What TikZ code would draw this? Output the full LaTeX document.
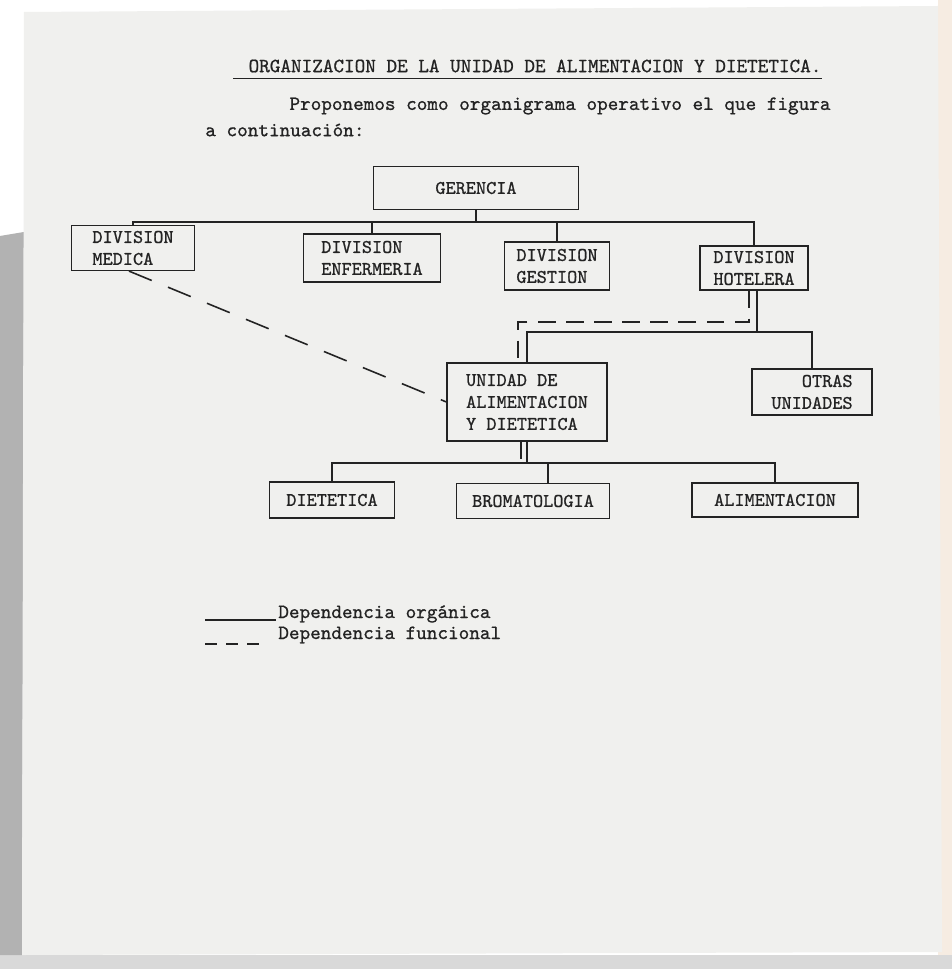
\documentclass[tikz,border=0pt]{standalone}
\usepackage{fontspec}
\setmonofont{lmmono10-regular.otf}[FakeBold=0.8]
\usetikzlibrary{positioning,calc}
\definecolor{paper}{RGB}{240,240,238}
\definecolor{ink}{RGB}{35,35,35}

\begin{document}
\begin{tikzpicture}[x=0.02cm,y=-0.02cm]
        % Define styles
        \tikzstyle{box} = [rectangle, draw=ink, line width=0.7pt, text=ink,
            font=\ttfamily\fontsize{11}{12.5}\selectfont, align=left, inner sep=2pt]
        \tikzstyle{solidline} = [draw=ink, line width=0.7pt]
        \tikzstyle{dashline} = [draw=ink, line width=0.9pt, dash pattern=on 10pt off 6pt]
        \tikzstyle{txt} = [text=ink, font=\ttfamily\fontsize{11.5}{13}\selectfont, inner sep=0pt]

        % Page
        \useasboundingbox (0,0) rectangle (952,969);
        \fill[white] (0,0) rectangle (952,969);
        \fill[gray!30] (0,955) rectangle (952,969);
        \fill[gray!60] (0,236) -- (24,232) -- (22,955) -- (0,955) -- cycle;
        \fill[brown!15] (938,0) rectangle (952,955);
        \fill[paper] (24,12) -- (938,6) -- (942,952) -- (22,955) -- cycle;

        % Title
        \node [txt] (title) at (535,66) {ORGANIZACION DE LA UNIDAD DE ALIMENTACION Y DIETETICA.};
        \draw [solidline, line width=0.5pt] ([xshift=-0.3cm,yshift=-3pt]title.south west) -- ([yshift=-3pt]title.south east);
        \node [txt] (intro) at (560,106) {Proponemos como organigrama operativo el que figura};
        \node [txt, anchor=west] (intro2) at (205,130) {a continuación:};

        % Nodes
        \node [box, align=center, minimum width=4.1cm, minimum height=0.86cm] (gerencia) at (476,188) {GERENCIA};
        \node [box, minimum width=2.46cm, minimum height=0.9cm] (medica) at (133,248) {DIVISION\\MEDICA};
        \node [box, minimum width=2.74cm, minimum height=0.96cm] (enfermeria) at (372,258) {DIVISION\\ENFERMERIA};
        \node [box, minimum width=2.1cm, minimum height=0.96cm] (gestion) at (557,266) {DIVISION\\GESTION};
        \node [box, minimum width=2.16cm, minimum height=0.88cm] (hotelera) at (754,268) {DIVISION\\HOTELERA};
        \node [box, minimum width=3.2cm, minimum height=1.56cm] (unidad) at (527,402) {UNIDAD DE\\ALIMENTACION\\Y DIETETICA};
        \node [box, align=right, minimum width=2.4cm, minimum height=0.92cm] (otras) at (812,392) {OTRAS\\UNIDADES};
        \node [box, minimum width=2.5cm, minimum height=0.72cm] (dietetica) at (332,500) {DIETETICA};
        \node [box, minimum width=3.06cm, minimum height=0.7cm] (bromatologia) at (533,501) {BROMATOLOGIA};
        \node [box, minimum width=3.32cm, minimum height=0.68cm] (alimentacion) at (775,500) {ALIMENTACION};

        \coordinate (bus1) at (0,222);
        \coordinate (bus2) at (0,332);
        \coordinate (dashbus) at (0,322);
        \coordinate (bus3) at (0,463);

        % Lines
        \draw [solidline] (gerencia) -- (gerencia.south |- bus1);
        \draw [solidline] (medica.north) |- (hotelera.north |- bus1) -- (hotelera.north);
        \draw [solidline] (enfermeria.north) -- (enfermeria.north |- bus1);
        \draw [solidline] (gestion.north) -- (gestion.north |- bus1);
        \draw [solidline] ($(hotelera.south)+(3,0)$) -- ($(hotelera.south |- bus2)+(3,0)$);
        \draw [solidline] (unidad.north) |- (otras.north |- bus2) -- (otras.north);
        \draw [solidline] (unidad.south) -- (unidad.south |- bus3);
        \draw [solidline] (dietetica.north) |- (alimentacion.north |- bus3) -- (alimentacion.north);
        \draw [solidline] ($(bromatologia.north)+(15,0)$) -- ($(bromatologia.north |- bus3)+(15,0)$);

        \draw [dashline] ($(hotelera.south)+(-5,0)$) |- ($(unidad.north |- dashbus)+(-9,0)$) -- ($(unidad.north)+(-9,0)$);
        \draw [dashline] ($(unidad.south)+(-6,0)$) -- ($(unidad.south |- bus3)+(-6,0)$);
        \draw [dashline, dash pattern=on 14pt off 10pt] ($(medica.south)+(-4,0)$) -- (unidad.west);

        % Legend
        \node [txt, anchor=base west] (organica) at (278,618) {Dependencia orgánica};
        \node [txt, anchor=base west] (funcional) at (278,639) {Dependencia funcional};
        \draw [solidline, line width=1.3pt] ($(organica.base west)+(-73,2)$) -- ($(organica.base west)+(-2,2)$);
        \draw [dashline, dash pattern=on 7pt off 5pt] ($(funcional.base west)+(-73,5)$) -- ($(funcional.base west)+(-15,5)$);

    \end{tikzpicture}
\end{document}
